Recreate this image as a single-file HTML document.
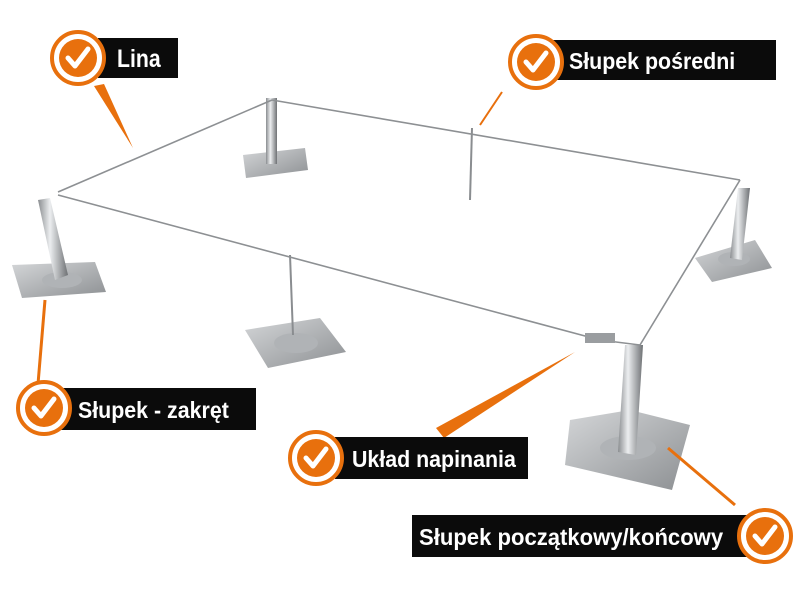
<!DOCTYPE html>
<html><head><meta charset="utf-8"><style>
html,body{margin:0;padding:0;background:#fff;width:800px;height:600px;overflow:hidden}
svg{display:block}
text{font-family:"Liberation Sans",sans-serif;font-weight:bold;fill:#fff}
</style></head><body>
<svg width="800" height="600" viewBox="0 0 800 600">
<defs>
<linearGradient id="post" x1="0" x2="1"><stop offset="0" stop-color="#8a8d90"/><stop offset=".4" stop-color="#eceef0"/><stop offset="1" stop-color="#6e7174"/></linearGradient>
<linearGradient id="plate" x1="0" y1="0" x2="1" y2="1"><stop offset="0" stop-color="#d4d6d8"/><stop offset="1" stop-color="#8d9093"/></linearGradient>
<g id="chk"><circle r="26" fill="#fff" stroke="#e8700d" stroke-width="4"/><circle r="19" fill="#e8700d"/><path d="M-10 0 L-3 8 L10 -9" fill="none" stroke="#fff" stroke-width="5" stroke-linecap="round" stroke-linejoin="round"/></g>
</defs>
<polygon points="243,155 305,148 308,170 246,178" fill="url(#plate)"/>
<polygon points="12,265 95,262 106,292 22,298" fill="url(#plate)"/>
<polygon points="245,330 320,318 346,352 268,368" fill="url(#plate)"/>
<polygon points="695,258 755,240 772,268 712,282" fill="url(#plate)"/>
<polygon points="570,420 630,410 690,425 672,490 565,465" fill="url(#plate)"/>
<ellipse cx="62" cy="280" rx="20" ry="8" fill="#b0b3b6"/>
<ellipse cx="296" cy="343" rx="22" ry="10" fill="#b0b3b6"/>
<ellipse cx="628" cy="448" rx="28" ry="12" fill="#b0b3b6"/>
<ellipse cx="734" cy="259" rx="16" ry="7" fill="#b0b3b6"/>
<rect x="266" y="98" width="11" height="66" fill="url(#post)"/>
<polygon points="38,200 50,198 68,275 55,280" fill="url(#post)"/>
<polygon points="738,188 750,188 742,260 730,258" fill="url(#post)"/>
<polygon points="625,345 643,345 636,455 618,452" fill="url(#post)"/>
<line x1="290" y1="255" x2="293" y2="335" stroke="#8a8d90" stroke-width="2"/>
<line x1="472" y1="128" x2="470" y2="200" stroke="#8a8d90" stroke-width="2"/>
<g stroke="#8d9093" stroke-width="1.6" fill="none">
<line x1="58" y1="192" x2="272" y2="100"/>
<line x1="272" y1="100" x2="740" y2="180"/>
<line x1="740" y1="180" x2="640" y2="345"/>
<line x1="58" y1="195" x2="600" y2="340"/>
<line x1="600" y1="340" x2="640" y2="345"/>
</g>
<rect x="585" y="333" width="30" height="10" fill="#9a9da0"/>
<polygon points="94,86 104,84 133,148" fill="#e8700d"/>
<line x1="502" y1="92" x2="480" y2="125" stroke="#e8700d" stroke-width="2"/>
<line x1="45" y1="300" x2="38" y2="384" stroke="#e8700d" stroke-width="3"/>
<polygon points="436,428 444,438 575,352" fill="#e8700d"/>
<line x1="668" y1="448" x2="735" y2="505" stroke="#e8700d" stroke-width="3"/>
<rect x="98" y="38" width="80" height="40" fill="#0b0b0b"/>
<text x="117" y="67" font-size="25" transform="translate(117,0) scale(.85,1) translate(-117,0)">Lina</text>
<use href="#chk" x="78" y="58"/>
<rect x="548" y="40" width="228" height="40" fill="#0b0b0b"/>
<text x="569" y="69" font-size="23" transform="translate(569,0) scale(.93,1) translate(-569,0)">Słupek pośredni</text>
<use href="#chk" x="536" y="62"/>
<rect x="60" y="388" width="196" height="42" fill="#0b0b0b"/>
<text x="78" y="418" font-size="23" transform="translate(78,0) scale(.93,1) translate(-78,0)">Słupek - zakręt</text>
<use href="#chk" x="44" y="408"/>
<rect x="335" y="437" width="193" height="42" fill="#0b0b0b"/>
<text x="352" y="467" font-size="23" transform="translate(352,0) scale(.93,1) translate(-352,0)">Układ napinania</text>
<use href="#chk" x="316" y="458"/>
<rect x="412" y="515" width="336" height="42" fill="#0b0b0b"/>
<text x="419" y="545" font-size="23" transform="translate(419,0) scale(.96,1) translate(-419,0)">Słupek początkowy/końcowy</text>
<use href="#chk" x="765" y="536"/>
</svg>
</body></html>
